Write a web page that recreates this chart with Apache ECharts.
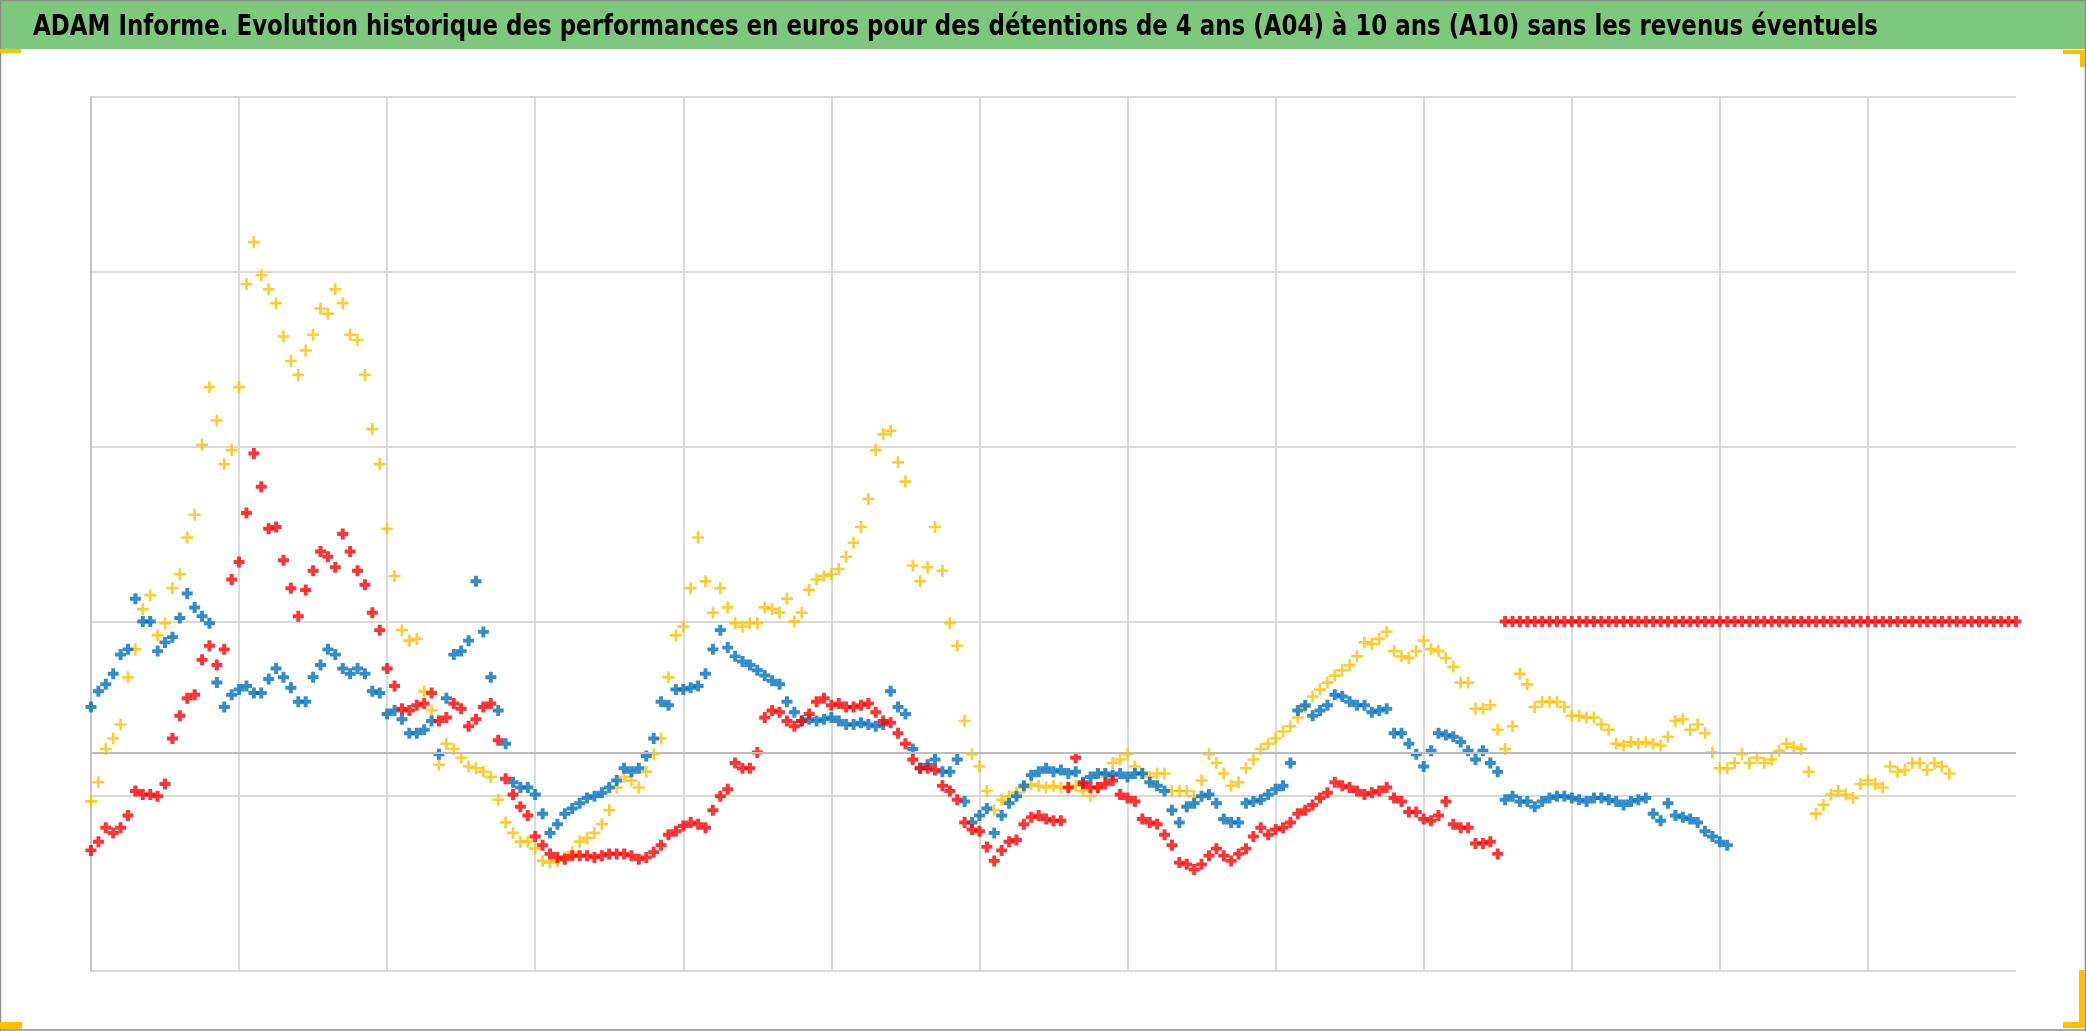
<!DOCTYPE html>
<html>
<head>
<meta charset="utf-8">
<script src="https://cdn.jsdelivr.net/npm/echarts@6/dist/echarts.min.js"></script>
<style>
html,body{margin:0;padding:0;background:#fff;}
#chart{width:2086px;height:1031px;}
</style>
</head>
<body>
<div id="chart"></div>
<script>
const TITLE = "ADAM Informe. Evolution historique des performances en euros pour des détentions de 4 ans (A04) à 10 ans (A10) sans les revenus éventuels";

// x: one sample every STEP grid units (13 vertical grid intervals)
const STEP = 0.05;
const X_MAX = 13;
const Y_MAX = 5;
const ZERO_LEVEL = 1.247; // level of the darker horizontal axis line

// Yellow series (A04)
const serieA04 = [
0.97,1.08,1.27,1.33,1.41,1.68,1.84,2.07,2.15,1.92,
1.99,2.19,2.27,2.48,2.61,3.01,3.34,3.15,2.90,2.98,
3.34,3.93,4.17,3.98,3.90,3.82,3.63,3.49,3.41,3.55,
3.64,3.79,3.76,3.90,3.82,3.64,3.61,3.41,3.10,2.90,
2.53,2.26,1.95,1.89,1.90,
1.60,1.49,1.18,1.30,1.27,1.22,1.17,1.16,1.14,1.11,
0.98,0.85,0.79,0.74,0.74,0.70,0.63,0.62,0.63,0.65,
0.68,0.74,0.76,0.79,0.84,0.92,1.05,1.11,1.09,1.05,
1.14,1.24,1.33,1.68,1.92,1.97,2.19,2.48,2.23,2.05,
2.19,2.08,1.99,1.97,1.99,1.99,2.08,2.07,2.05,2.13,
2.00,2.05,2.18,2.24,2.26,2.27,2.30,2.37,2.45,2.54,
2.70,2.98,3.07,3.09,2.91,2.80,2.32,2.23,2.31,2.54,
2.29,1.99,1.86,1.43,1.24,1.17,1.03,0.92,0.98,1.00,
1.02,1.05,1.07,1.06,1.05,1.06,1.05,
1.05,1.06,1.03,1.00,1.05,1.11,1.19,1.21,1.24,1.17,
1.13,1.11,1.13,1.13,1.03,1.03,1.03,1.00,1.09,1.24,
1.19,1.13,1.06,1.08,1.16,1.21,1.27,1.30,1.33,1.37,
1.40,1.45,1.51,1.57,1.61,1.65,1.69,1.72,1.75,1.80,
1.88,1.87,1.90,1.94,
1.83,1.80,1.79,1.83,1.89,1.84,1.83,1.79,1.74,1.65,
1.65,1.50,1.50,1.52,1.38,1.27,1.40,1.70,1.64,1.51,
1.54,1.54,1.54,1.51,1.46,1.46,1.45,1.45,1.41,1.38,
1.30,1.29,1.31,1.30,1.31,1.30,1.29,1.34,1.43,1.44,
1.38,1.41,1.36,1.25,
1.16,1.16,1.19,1.24,1.19,1.22,1.19,1.21,1.26,1.30,
1.28,1.27,1.14,0.90,0.95,1.01,1.03,1.01,0.99,1.07,
1.09,1.07,1.05,1.17,1.14,1.15,1.19,1.19,1.15,1.19,
1.17,1.13
];

// Blue series (A07)
const serieA07 = [
1.51,1.60,1.64,1.70,1.81,1.84,2.13,2.00,2.00,1.83,
1.88,1.91,2.02,2.16,2.08,2.03,1.99,1.65,1.51,1.58,
1.61,1.63,1.59,1.59,1.67,1.73,1.68,1.62,1.54,1.54,
1.68,1.75,1.84,1.81,1.73,1.70,1.73,1.70,1.60,1.59,
1.47,1.49,1.44,1.36,1.36,
1.38,1.43,1.24,1.56,1.81,1.83,1.89,2.23,1.94,1.68,
1.49,1.30,1.08,1.05,1.05,1.01,0.90,0.79,0.84,0.90,
0.93,0.96,0.99,1.00,1.02,1.05,1.09,1.16,1.14,1.16,
1.23,1.33,1.54,1.52,1.61,1.61,1.62,1.63,1.70,1.84,
1.95,1.85,1.80,1.77,1.75,1.72,1.69,1.66,1.64,1.54,
1.48,1.43,1.44,1.43,1.44,1.45,1.43,1.41,1.41,1.42,
1.41,1.40,1.41,1.60,1.51,1.47,1.27,1.16,1.18,1.21,
1.14,1.14,1.21,0.97,0.85,0.89,0.93,0.79,0.89,0.96,
1.00,1.06,1.12,1.14,1.16,1.14,1.15,
1.13,1.14,1.08,1.11,1.13,1.13,1.12,1.13,1.11,1.13,
1.13,1.08,1.06,1.03,0.92,0.85,0.94,0.96,1.00,1.01,
0.96,0.87,0.85,0.85,0.96,0.97,0.98,1.01,1.04,1.06,
1.19,1.49,1.52,1.46,1.49,1.52,1.58,1.57,1.54,1.52,
1.52,1.48,1.49,1.50,
1.36,1.36,1.30,1.24,1.17,1.26,1.36,1.35,1.34,1.31,
1.26,1.21,1.26,1.19,1.14,0.98,1.00,0.97,0.97,0.94,
0.97,0.99,1.00,1.00,0.99,0.98,0.97,0.99,0.99,0.98,
0.97,0.95,0.97,0.98,0.99,0.90,0.86,0.96,0.89,0.88,
0.87,0.85,0.80,0.77,0.74,0.72
];

// Red series (A10)
const serieA10 = [
0.69,0.74,0.82,0.79,0.82,0.89,1.03,1.01,1.01,1.00,
1.07,1.33,1.46,1.56,1.58,1.78,1.86,1.75,1.84,2.24,
2.34,2.62,2.96,2.77,2.53,2.54,2.35,2.19,2.03,2.18,
2.29,2.40,2.37,2.31,2.50,2.40,2.29,2.21,2.05,1.95,
1.73,1.63,1.50,1.49,1.52,
1.53,1.59,1.43,1.45,1.53,1.50,1.40,1.44,1.51,1.53,
1.32,1.10,1.01,0.94,0.89,0.77,0.72,0.67,0.65,0.64,
0.66,0.66,0.66,0.65,0.66,0.67,0.67,0.67,0.66,0.64,
0.65,0.68,0.72,0.78,0.80,0.83,0.85,0.84,0.82,0.92,
1.00,1.04,1.19,1.16,1.16,1.25,1.45,1.49,1.48,1.43,
1.40,1.43,1.47,1.54,1.56,1.52,1.53,1.51,1.51,1.52,
1.53,1.48,1.43,1.42,1.36,1.30,1.21,1.16,1.16,1.15,
1.06,1.03,0.98,0.85,0.81,0.80,0.71,0.63,0.69,0.74,
0.75,0.84,0.88,0.89,0.87,0.86,0.86,
1.05,1.22,1.07,1.05,1.05,1.07,1.09,1.01,0.99,0.97,
0.87,0.85,0.84,0.78,0.72,0.62,0.61,0.58,0.61,0.66,
0.70,0.66,0.63,0.67,0.70,0.77,0.82,0.78,0.81,0.82,
0.85,0.90,0.92,0.95,0.99,1.02,1.08,1.06,1.05,1.03,
1.01,1.02,1.03,1.05,
0.99,0.97,0.91,0.91,0.87,0.86,0.89,0.97,0.84,0.82,
0.82,0.73,0.73,0.74,0.67,
2.00,2.00,2.00,2.00,2.00,2.00,2.00,2.00,2.00,2.00,
2.00,2.00,2.00,2.00,2.00,2.00,2.00,2.00,2.00,2.00,
2.00,2.00,2.00,2.00,2.00,2.00,2.00,2.00,2.00,2.00,
2.00,2.00,2.00,2.00,2.00,2.00,2.00,2.00,2.00,2.00,
2.00,2.00,2.00,2.00,2.00,2.00,2.00,2.00,2.00,2.00,
2.00,2.00,2.00,2.00,2.00,2.00,2.00,2.00,2.00,2.00,
2.00,2.00,2.00,2.00,2.00,2.00,2.00,2.00,2.00,2.00
];

const toPairs = arr => arr.map((v, i) => [i * STEP, v]);

const PLUS_BOLD = 'path://M3.2,0H6.8V3.2H10V6.8H6.8V10H3.2V6.8H0V3.2H3.2Z';
const PLUS_THIN = 'path://M3.9,0H6.1V3.9H10V6.1H6.1V10H3.9V6.1H0V3.9H3.9Z';

// title: fixed font size, horizontally scaled to the reference width
const FONT_STACK = '"Liberation Sans Narrow", "DejaVu Sans Condensed", "Noto Sans", sans-serif';
const TITLE_SIZE = 28;
const TITLE_WIDTH = 1845;
const mctx = document.createElement('canvas').getContext('2d');
mctx.font = 'bold ' + TITLE_SIZE + 'px ' + FONT_STACK;
const tw = mctx.measureText(TITLE).width;
const titleScaleX = TITLE_WIDTH / tw;

const chart = echarts.init(document.getElementById('chart'), null, {renderer: 'canvas'});
const option = {
  animation: false,
  backgroundColor: '#ffffff',
  grid: {left: 91, right: 70, top: 97, bottom: 60, containLabel: false},
  xAxis: {
    type: 'value', min: 0, max: X_MAX, interval: 1,
    axisLine: {show: false}, axisTick: {show: false}, axisLabel: {show: false},
    splitLine: {show: true, showMaxLine: false, lineStyle: {color: '#d9d9d9', width: 2}}
  },
  yAxis: {
    type: 'value', min: 0, max: Y_MAX, interval: 1,
    axisLine: {show: true, lineStyle: {color: '#c4c4c4', width: 2}},
    axisTick: {show: false}, axisLabel: {show: false},
    splitLine: {show: true, lineStyle: {color: '#d9d9d9', width: 2}}
  },
  graphic: [
    {type: 'rect', shape: {x: 0, y: 0, width: 2086, height: 49}, style: {fill: '#7dc87d'}, z: 10},
    {type: 'text', x: 33, y: 28, scaleX: titleScaleX, originX: 0, originY: 0,
      style: {text: TITLE, font: 'bold ' + TITLE_SIZE + 'px ' + FONT_STACK, fill: '#000', verticalAlign: 'middle', align: 'left'}, z: 11},
    {type: 'line', shape: {x1: 0, y1: 0.5, x2: 2086, y2: 0.5}, style: {stroke: '#8c8c8c', lineWidth: 1.5}, z: 12},
    {type: 'line', shape: {x1: 0.5, y1: 0, x2: 0.5, y2: 1031}, style: {stroke: '#8c8c8c', lineWidth: 1.5}, z: 12},
    {type: 'line', shape: {x1: 2085.5, y1: 0, x2: 2085.5, y2: 1031}, style: {stroke: '#8c8c8c', lineWidth: 1.5}, z: 12},
    {type: 'line', shape: {x1: 0, y1: 1030, x2: 2086, y2: 1030}, style: {stroke: '#8c8c8c', lineWidth: 1.5}, z: 12},
    {type: 'rect', shape: {x: 0, y: 49, width: 21, height: 4}, style: {fill: '#ffc000'}, z: 12},
    {type: 'rect', shape: {x: 2063, y: 50, width: 22, height: 4}, style: {fill: '#ffc000'}, z: 12},
    {type: 'rect', shape: {x: 2080, y: 50, width: 5, height: 17}, style: {fill: '#ffc000'}, z: 12},
    {type: 'rect', shape: {x: 0, y: 1022, width: 22, height: 7}, style: {fill: '#ffc000'}, z: 12},
    {type: 'rect', shape: {x: 2079, y: 970, width: 6, height: 58}, style: {fill: '#ffc000'}, z: 12},
    {type: 'rect', shape: {x: 2063, y: 1022, width: 22, height: 6}, style: {fill: '#ffc000'}, z: 12}
  ],
  series: [
    {
      name: 'base', type: 'scatter', data: [], silent: true,
      markLine: {
        silent: true, symbol: 'none', label: {show: false},
        lineStyle: {color: '#bcbcbc', width: 2, type: 'solid'},
        data: [{yAxis: ZERO_LEVEL}]
      }
    },
    {
      name: 'A04', type: 'scatter', data: toPairs(serieA04),
      symbol: PLUS_THIN, symbolSize: 12,
      itemStyle: {color: '#ffc000'}
    },
    {
      name: 'A07', type: 'scatter', data: toPairs(serieA07),
      symbol: PLUS_BOLD, symbolSize: 11,
      itemStyle: {color: '#0070c0'}
    },
    {
      name: 'A10', type: 'scatter', data: toPairs(serieA10),
      symbol: PLUS_BOLD, symbolSize: 11,
      itemStyle: {color: '#ff0000'}
    }
  ]
};
chart.setOption(option);
</script>
</body>
</html>
